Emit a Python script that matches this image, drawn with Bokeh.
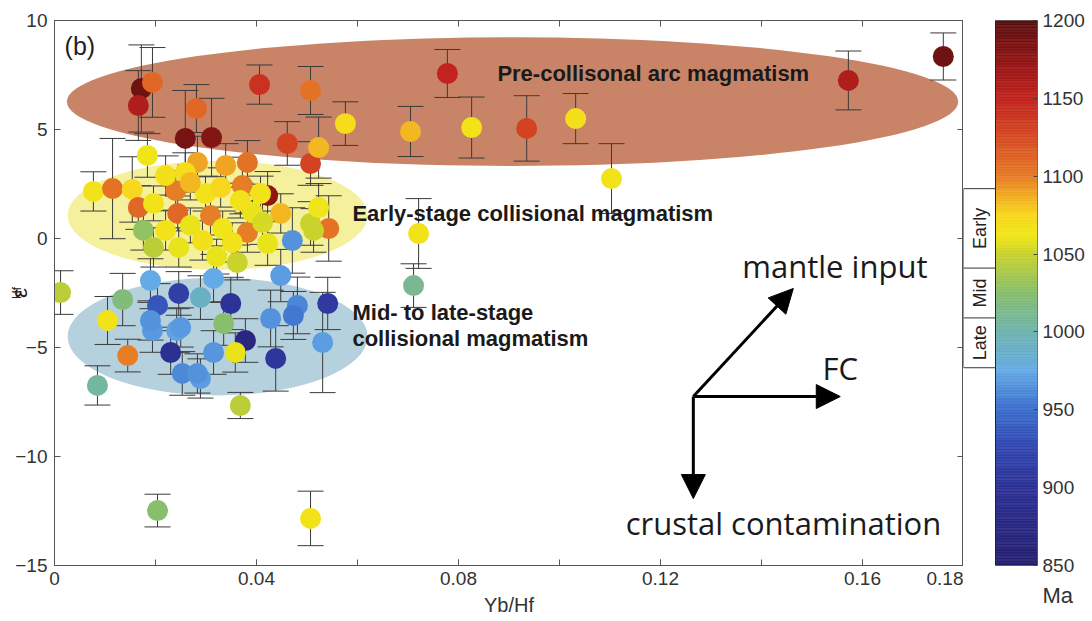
import numpy as np
from bokeh.plotting import figure
from bokeh.models import (ColumnDataSource, Range1d, LinearAxis, FixedTicker, Whisker, TeeHead,
                          LinearColorMapper, Label, Arrow, NormalHead, Title)
from bokeh.layouts import row
from bokeh.transform import transform
from bokeh.core.properties import value
from bokeh.embed import file_html
from bokeh.resources import INLINE

# ---------------- data ----------------
yb_hf = [0.0172, 0.0194, 0.0166, 0.0281, 0.0259, 0.0311, 0.0406, 0.0507, 0.0461, 0.0507,
         0.0523, 0.0576, 0.0705, 0.0778, 0.0826, 0.0935, 0.1032, 0.1103, 0.1572, 0.1760,
         0.0077, 0.0115, 0.0154, 0.0166, 0.0184, 0.0196, 0.0240, 0.0244, 0.0283, 0.0339,
         0.0382, 0.0372, 0.0422, 0.0408, 0.0448, 0.0309, 0.0382, 0.0507, 0.0543, 0.0471,
         0.0523, 0.0299, 0.0721, 0.0220, 0.0259, 0.0269, 0.0329, 0.0269, 0.0333, 0.0352,
         0.0392, 0.0368, 0.0412, 0.0220, 0.0246, 0.0293, 0.0321, 0.0362, 0.0422, 0.0176,
         0.0196, 0.0513, 0.0711,
         0.0012, 0.0135, 0.0105, 0.0145, 0.0085, 0.0204, 0.0246, 0.0230, 0.0253, 0.0194,
         0.0242, 0.0190, 0.0289, 0.0349, 0.0378, 0.0438, 0.0541, 0.0481, 0.0473, 0.0428,
         0.0448, 0.0531, 0.0315, 0.0358, 0.0368, 0.0335, 0.0289, 0.0315, 0.0250, 0.0190,
         0.0283, 0.0204, 0.0507]
eps_hf = [6.88, 7.16, 6.10, 5.96, 4.59, 4.63, 7.06, 6.79, 4.36, 3.44,
          4.17, 5.27, 4.91, 7.57, 5.09, 5.05, 5.50, 2.75, 7.25, 8.35,
          2.16, 2.29, 2.25, 1.42, 3.81, 1.61, 2.20, 1.15, 3.49, 3.35,
          3.49, 2.43, 1.97, 2.06, 1.15, 1.06, 0.27, 0.69, 0.46, -0.09,
          1.42, 2.06, 0.23, 2.89, 3.03, 2.57, 2.34, 0.60, 0.46, -0.18,
          1.19, 1.74, 0.73, 0.37, -0.41, -0.09, -0.83, -1.10, -0.23, 0.37,
          -0.41, 0.37, -2.16,
          -2.48, -2.80, -3.76, -5.37, -6.74, -3.07, -2.52, -5.23, -6.19, -4.22,
          -4.22, -1.93, -6.42, -2.98, -4.68, -5.50, -2.98, -3.07, -3.53, -3.67,
          -1.70, -4.77, -5.23, -5.23, -7.66, -3.90, -2.71, -1.83, -4.08, -3.76,
          -6.19, -12.48, -12.84]
eps_err = [2.0, 1.6, 1.6, 1.1, 2.2, 1.8, 0.9, 1.1, 1.0, 1.0,
           1.4, 1.0, 1.15, 1.1, 1.4, 1.5, 1.15, 1.6, 1.35, 1.08,
           0.9, 2.3, 1.5, 1.0, 1.0, 0.8, 0.9, 0.8, 1.2, 1.0,
           1.0, 1.3, 1.1, 0.8, 0.9, 0.9, 0.9, 1.0, 1.5, 1.5,
           1.1, 0.8, 1.6, 0.9, 0.9, 0.8, 0.9, 0.8, 0.8, 0.9,
           0.8, 0.8, 1.0, 0.9, 0.9, 0.9, 0.8, 0.8, 1.0, 0.9,
           0.9, 1.0, 1.0,
           1.0, 1.2, 1.1, 0.75, 0.9, 1.0, 1.0, 1.0, 1.0, 1.0,
           1.0, 1.0, 0.9, 1.2, 1.0, 1.5, 1.2, 1.3, 1.1, 1.3,
           1.2, 2.3, 1.0, 0.9, 0.6, 1.0, 1.0, 1.1, 0.9, 0.9,
           0.9, 0.75, 1.25]
age_ma = [1190, 1110, 1160, 1110, 1185, 1180, 1140, 1105, 1130, 1130,
          1085, 1070, 1085, 1150, 1065, 1130, 1068, 1065, 1160, 1190,
          1065, 1105, 1075, 1110, 1062, 1065, 1100, 1110, 1090, 1090,
          1105, 1100, 1175, 1065, 1085, 1100, 1100, 1050, 1105, 965,
          1062, 1065, 1065, 1068, 1070, 1085, 1075, 1060, 1062, 1065,
          1060, 1065, 1055, 1065, 1060, 1068, 1060, 1050, 1060, 1030,
          1045, 1050, 1010,
          1045, 1020, 1065, 1100, 1005, 935, 915, 895, 962, 968,
          972, 975, 970, 900, 870, 905, 910, 960, 955, 965,
          970, 970, 967, 1060, 1045, 1025, 990, 975, 968, 965,
          965, 1025, 1065]

x_minor_ticks = [0, 0.02, 0.04, 0.06, 0.08, 0.10, 0.12, 0.14, 0.16, 0.18]
x_label_ticks = [0, 0.04, 0.08, 0.12, 0.16, 0.18]
x_tick_labels = ["0", "0.04", "0.08", "0.12", "0.16", "0.18"]
y_ticks = [-15, -10, -5, 0, 5, 10]
y_tick_labels = ["\u221215", "\u221210", "\u22125", "0", "5", "10"]
cbar_ticks = [850, 900, 950, 1000, 1050, 1100, 1150, 1200]

# magmatic fields (ellipses)
field_x = [0.0907, 0.0323, 0.0323]
field_y = [6.28, 1.06, -4.50]
field_w = [0.1765, 0.0594, 0.0594]
field_h = [5.9, 5.0, 5.4]
field_colors = ["#c98468", "#f4f09c", "#b6d1de"]
field_text = ["Pre-collisonal arc magmatism", "Early-stage collisional magmatism",
              "Mid- to late-stage", "collisional magmatism"]
field_text_x = [0.0877, 0.0590, 0.0590, 0.0590]
field_text_y = [7.57, 1.15, -3.39, -4.59]

# process arrows
arrow_origin = (0.1265, -7.25)
arrow_end_x = [0.1463, 0.1556, 0.1265]
arrow_end_y = [-2.29, -7.25, -11.93]
arrow_text = ["mantle input", "FC", "crustal contamination"]
arrow_text_x = [0.1362, 0.1521, 0.1131]
arrow_text_y = [-1.24, -5.96, -13.03]

# stage boxes next to colour bar
stage_names = ["Early", "Mid", "Late"]
stage_bounds = [1092, 1041, 1009, 977]

# ---------------- colour map ----------------
stop_age = [850, 900, 925, 950, 975, 1000, 1025, 1050, 1062, 1075, 1090, 1100, 1125, 1150, 1175, 1200]
stop_rgb = [(38, 32, 112), (45, 50, 150), (50, 70, 175), (60, 110, 205), (100, 170, 230),
            (110, 180, 175), (135, 190, 110), (200, 210, 45), (240, 230, 25), (248, 215, 30),
            (240, 165, 35), (230, 125, 38), (215, 75, 35), (195, 35, 30), (145, 22, 22), (90, 16, 16)]
grid = np.linspace(850, 1200, 256)
palette = []
for a in grid:
    r = np.interp(a, stop_age, [c[0] for c in stop_rgb])
    g = np.interp(a, stop_age, [c[1] for c in stop_rgb])
    b = np.interp(a, stop_age, [c[2] for c in stop_rgb])
    palette.append("#%02x%02x%02x" % (int(round(r)), int(round(g)), int(round(b))))
mapper = LinearColorMapper(palette=palette, low=850, high=1200)

TICK_FONT = "Liberation Sans"
AX_COL = "#555555"
LBL_COL = "#333333"

# ---------------- main figure ----------------
p = figure(frame_width=909, frame_height=545, x_range=Range1d(0, 0.18), y_range=Range1d(-15, 10),
           output_backend="svg", toolbar_location=None, min_border_left=54, min_border_top=20,
           min_border_right=0, min_border_bottom=10, outline_line_color=AX_COL,
           background_fill_color="white", border_fill_color="white")
p.grid.visible = False

xt = FixedTicker(ticks=x_label_ticks, minor_ticks=x_minor_ticks)
yt = FixedTicker(ticks=y_ticks, minor_ticks=[])
p.xaxis.ticker = xt
p.yaxis.ticker = yt
p.xaxis.major_label_overrides = dict(zip(x_label_ticks, x_tick_labels))
p.yaxis.major_label_overrides = dict(zip(y_ticks, y_tick_labels))
for ax in (p.xaxis[0], p.yaxis[0]):
    ax.major_tick_in = 6
    ax.major_tick_out = 0
    ax.minor_tick_in = 6
    ax.minor_tick_out = 0
    ax.axis_line_color = AX_COL
    ax.major_tick_line_color = AX_COL
    ax.minor_tick_line_color = AX_COL
    ax.major_label_text_font = TICK_FONT
    ax.major_label_text_font_size = "19px"
    ax.major_label_text_color = LBL_COL
p.xaxis.major_label_standoff = 6
p.yaxis.major_label_standoff = 7
p.xaxis.axis_label = "Yb/Hf"
p.xaxis.axis_label_text_font = TICK_FONT
p.xaxis.axis_label_text_font_size = "20px"
p.xaxis.axis_label_text_font_style = "normal"
p.xaxis.axis_label_text_color = LBL_COL
p.xaxis.axis_label_standoff = 6

# y label: epsilon (axis label) with subscript "Hf" (title shifted upward)
p.yaxis.axis_label = "\u03b5"
p.yaxis.axis_label_text_font = TICK_FONT
p.yaxis.axis_label_text_font_size = "22px"
p.yaxis.axis_label_text_font_style = "normal"
p.yaxis.axis_label_text_color = "#222222"
p.yaxis.axis_label_standoff = -20
p.add_layout(Title(text="Hf", text_font=TICK_FONT, text_font_size="12px", text_font_style="normal",
                   text_color="#222222", align="center", offset=21, standoff=-39), "left")

# mirrored ticks on top and right (tick marks only, no labels)
top_ax = LinearAxis(ticker=FixedTicker(ticks=[], minor_ticks=x_minor_ticks),
                    major_label_standoff=0, minor_tick_in=6, minor_tick_out=0,
                    axis_line_color=AX_COL, minor_tick_line_color=AX_COL)
right_ax = LinearAxis(ticker=FixedTicker(ticks=[], minor_ticks=y_ticks),
                      major_label_standoff=0, minor_tick_in=6, minor_tick_out=0,
                      axis_line_color=AX_COL, minor_tick_line_color=AX_COL)
p.add_layout(top_ax, "above")
p.add_layout(right_ax, "right")

# fields
p.ellipse(x=field_x, y=field_y, width=field_w, height=field_h, fill_color=field_colors,
          line_color=None, fill_alpha=1.0, level="image")

src = ColumnDataSource(dict(x=yb_hf, y=eps_hf, age=age_ma,
                            lower=[v - e for v, e in zip(eps_hf, eps_err)],
                            upper=[v + e for v, e in zip(eps_hf, eps_err)]))
wh = Whisker(base="x", lower="lower", upper="upper", source=src, dimension="height",
             line_color="#3a3a3a", line_width=1, level="underlay",
             upper_head=TeeHead(size=26, line_color="#3a3a3a", line_width=1),
             lower_head=TeeHead(size=26, line_color="#3a3a3a", line_width=1))
p.add_layout(wh)
p.scatter("x", "y", source=src, size=21, fill_color=transform("age", mapper), line_color=None)

for t, tx, ty in zip(field_text, field_text_x, field_text_y):
    p.add_layout(Label(x=tx, y=ty, text=t, text_font=TICK_FONT, text_font_style="bold",
                       text_font_size="22px", text_color="#1a1a1a", text_baseline="middle"))

for ex, ey in zip(arrow_end_x, arrow_end_y):
    p.add_layout(Arrow(x_start=arrow_origin[0], y_start=arrow_origin[1], x_end=ex, y_end=ey,
                       line_width=3, line_color="black",
                       end=NormalHead(size=24, fill_color="black", line_color="black")))
for t, tx, ty in zip(arrow_text, arrow_text_x, arrow_text_y):
    p.add_layout(Label(x=tx, y=ty, text=t, text_font="Open Sans", text_font_size="31px",
                       text_color="#1a1a1a", text_baseline="middle"))

p.add_layout(Label(x=0.002, y=8.85, text="(b)", text_font=TICK_FONT, text_font_size="25px",
                   text_color="#222222", text_baseline="middle"))

# ---------------- colour bar figure ----------------
cb = figure(frame_width=74, frame_height=545, x_range=Range1d(0, 74), y_range=Range1d(850, 1200),
            x_axis_location=None, y_axis_location=None, output_backend="svg",
            toolbar_location=None, min_border_left=0, min_border_right=6, min_border_top=20,
            min_border_bottom=10, outline_line_color=None)
cb.grid.visible = False
levels = np.arange(850, 1201, 1)
cb_src = ColumnDataSource(dict(bottom=levels[:-1], top=levels[1:], mid=(levels[:-1] + levels[1:]) / 2))
cb.quad(left=32, right=74, bottom="bottom", top="top", source=cb_src,
        fill_color=transform("mid", mapper), line_color=transform("mid", mapper), line_width=0.6)
cb.quad(left=32, right=74, bottom=850, top=1200, fill_color=None, line_color="#222222", line_width=1)

cax = LinearAxis(ticker=FixedTicker(ticks=cbar_ticks, minor_ticks=[]), major_tick_in=4,
                 major_tick_out=0, axis_line_color=None, major_tick_line_color="#444444",
                 major_label_text_font=TICK_FONT, major_label_text_font_size="19px",
                 major_label_text_color=LBL_COL, major_label_standoff=5)
cb.add_layout(cax, "right")

cb.segment(x0=0, x1=32, y0=stage_bounds, y1=stage_bounds, line_color="#333333", line_width=1)
cb.segment(x0=0, x1=0, y0=stage_bounds[-1], y1=stage_bounds[0], line_color="#333333", line_width=1)
stage_mid = [(a + b) / 2 for a, b in zip(stage_bounds[:-1], stage_bounds[1:])]
for name, ym in zip(stage_names, stage_mid):
    cb.add_layout(Label(x=16, y=ym, text=name, angle=np.pi / 2, text_font=TICK_FONT,
                        text_font_size="18px", text_color="#222222", text_align="center",
                        text_baseline="middle"))
cb.add_layout(Title(text="Ma", text_font=TICK_FONT, text_font_size="22px", text_font_style="normal",
                    text_color=LBL_COL, align="left", offset=79, standoff=31), "below")

layout = row(p, cb, spacing=0)
open("out.html", "w").write(file_html(layout, INLINE))
